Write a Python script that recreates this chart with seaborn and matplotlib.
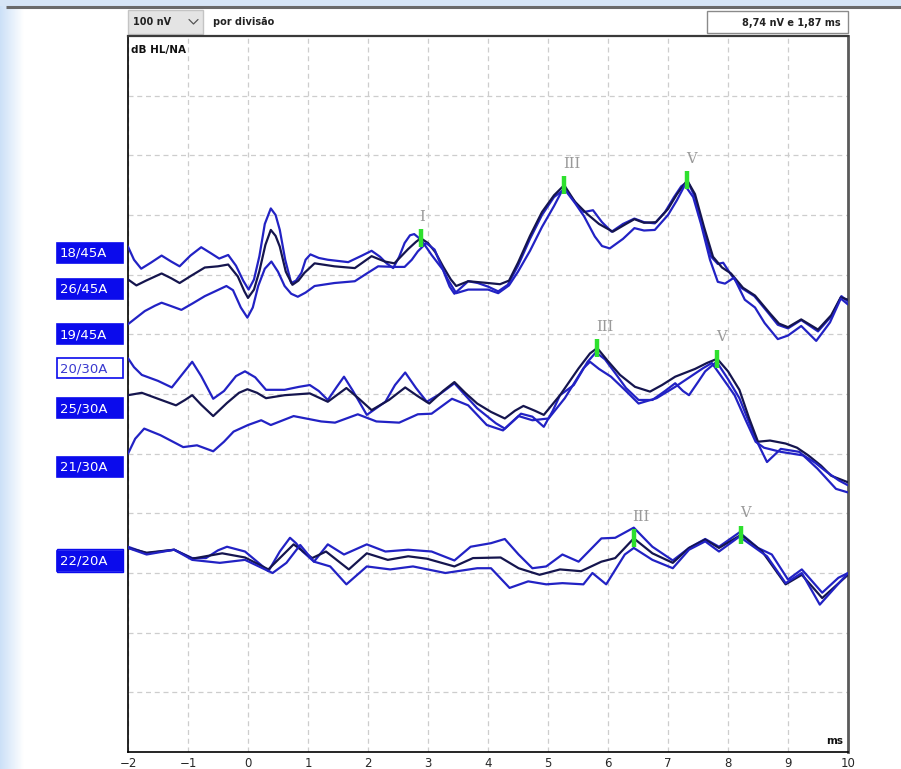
import numpy as np
import pandas as pd
import matplotlib
matplotlib.use("Agg")
import matplotlib.pyplot as plt
from matplotlib.patches import Rectangle
import seaborn as sns

# ---- ABR recordings: latency (ms) and amplitude (divisions of 100 nV, stacked) ----
t_18_45 = [-2.00, -1.90, -1.78, -1.62, -1.44, -1.28, -1.14, -0.96, -0.78, -0.62, -0.48, -0.33, -0.20, -0.08,
           0.01, 0.10, 0.19, 0.28, 0.38, 0.46, 0.53, 0.62, 0.72, 0.80, 0.89, 0.96, 1.04, 1.18, 1.33, 1.67,
           1.90, 2.06, 2.20, 2.31, 2.42, 2.52, 2.61, 2.70, 2.77, 2.89, 3.06, 3.25, 3.36, 3.44, 3.55, 3.67,
           3.83, 4.00, 4.17, 4.33, 4.50, 4.70, 4.90, 5.10, 5.28, 5.45, 5.60, 5.75, 5.90, 6.06, 6.25, 6.44,
           6.60, 6.78, 6.95, 7.10, 7.22, 7.33, 7.45, 7.56, 7.72, 7.83, 7.92, 8.05, 8.22, 8.44, 8.67, 8.83,
           9.00, 9.22, 9.50, 9.72, 9.89, 10.00]
v_18_45 = [8.47, 8.25, 8.10, 8.20, 8.32, 8.22, 8.14, 8.32, 8.46, 8.36, 8.27, 8.33, 8.15, 7.90,
           7.75, 7.92, 8.31, 8.85, 9.11, 9.00, 8.75, 8.25, 7.86, 7.90, 8.03, 8.25, 8.34, 8.28, 8.25, 8.21,
           8.32, 8.40, 8.30, 8.19, 8.11, 8.30, 8.53, 8.66, 8.68, 8.58, 8.33, 8.08, 7.80, 7.68, 7.78, 7.89,
           7.86, 7.80, 7.72, 7.83, 8.15, 8.60, 9.00, 9.30, 9.44, 9.22, 9.05, 9.08, 8.88, 8.72, 8.85, 8.94,
           8.88, 8.86, 9.05, 9.30, 9.48, 9.56, 9.30, 8.85, 8.30, 8.18, 8.20, 8.00, 7.78, 7.64, 7.36, 7.16,
           7.10, 7.24, 7.05, 7.30, 7.64, 7.55]

t_26_45 = [-2.00, -1.86, -1.70, -1.44, -1.28, -1.14, -0.95, -0.72, -0.50, -0.33, -0.17, -0.06, 0.00, 0.10,
           0.19, 0.29, 0.38, 0.46, 0.53, 0.63, 0.74, 0.84, 0.94, 1.11, 1.44, 1.78, 2.06, 2.28, 2.44, 2.67,
           2.80, 2.88, 3.00, 3.12, 3.25, 3.38, 3.47, 3.67, 4.00, 4.20, 4.35, 4.50, 4.70, 4.90, 5.10, 5.27,
           5.45, 5.65, 5.85, 6.08, 6.30, 6.44, 6.60, 6.80, 7.00, 7.15, 7.32, 7.45, 7.60, 7.75, 7.90, 8.05,
           8.25, 8.45, 8.70, 8.85, 9.00, 9.22, 9.50, 9.72, 9.88, 10.00]
v_26_45 = [7.92, 7.82, 7.90, 8.02, 7.94, 7.86, 7.98, 8.12, 8.14, 8.17, 7.97, 7.72, 7.61, 7.75,
           8.06, 8.50, 8.75, 8.65, 8.47, 8.05, 7.83, 7.90, 8.03, 8.19, 8.14, 8.11, 8.31, 8.22, 8.19, 8.43,
           8.55, 8.61, 8.53, 8.38, 8.14, 7.92, 7.81, 7.89, 7.86, 7.84, 7.90, 8.20, 8.65, 9.05, 9.33, 9.50,
           9.22, 9.02, 8.85, 8.72, 8.85, 8.93, 8.87, 8.88, 9.10, 9.35, 9.58, 9.35, 8.80, 8.30, 8.12, 8.02,
           7.78, 7.65, 7.35, 7.18, 7.12, 7.25, 7.08, 7.32, 7.62, 7.58]

t_19_45 = [-2.00, -1.86, -1.72, -1.55, -1.44, -1.30, -1.11, -0.92, -0.72, -0.55, -0.36, -0.25, -0.12, -0.01,
           0.08, 0.17, 0.28, 0.39, 0.50, 0.61, 0.72, 0.83, 0.96, 1.11, 1.44, 1.78, 1.98, 2.17, 2.44, 2.61,
           2.73, 2.83, 2.97, 3.11, 3.22, 3.33, 3.47, 3.67, 4.00, 4.17, 4.35, 4.50, 4.70, 4.90, 5.10, 5.22,
           5.30, 5.45, 5.60, 5.78, 5.90, 6.03, 6.25, 6.44, 6.60, 6.78, 7.00, 7.15, 7.28, 7.42, 7.55, 7.70,
           7.83, 7.95, 8.10, 8.28, 8.45, 8.61, 8.83, 9.00, 9.22, 9.47, 9.70, 9.88, 10.00]
v_19_45 = [7.17, 7.28, 7.39, 7.48, 7.53, 7.48, 7.41, 7.52, 7.64, 7.72, 7.81, 7.74, 7.45, 7.28,
           7.45, 7.81, 8.10, 8.22, 8.05, 7.81, 7.68, 7.63, 7.70, 7.81, 7.86, 7.89, 8.02, 8.14, 8.13, 8.13,
           8.25, 8.39, 8.53, 8.42, 8.15, 7.92, 7.69, 7.75, 7.75, 7.69, 7.82, 8.05, 8.40, 8.80, 9.15, 9.38,
           9.40, 9.20, 8.98, 8.64, 8.48, 8.44, 8.60, 8.78, 8.74, 8.75, 9.00, 9.25, 9.50, 9.30, 8.85, 8.25,
           7.88, 7.85, 7.95, 7.58, 7.45, 7.19, 6.92, 6.98, 7.14, 6.89, 7.20, 7.60, 7.50]

t_20_30 = [-2.00, -1.90, -1.77, -1.50, -1.27, -1.12, -0.93, -0.78, -0.58, -0.40, -0.20, -0.05, 0.12, 0.30,
           0.61, 0.85, 1.03, 1.18, 1.33, 1.48, 1.60, 1.75, 1.98, 2.29, 2.45, 2.62, 2.80, 2.98, 3.20, 3.44,
           3.62, 3.82, 4.13, 4.28, 4.55, 4.74, 4.93, 5.08, 5.20, 5.43, 5.66, 5.80, 5.95, 6.12, 6.30, 6.51,
           6.74, 6.95, 7.12, 7.25, 7.35, 7.50, 7.62, 7.81, 8.00, 8.19, 8.46, 8.65, 8.88, 9.19, 9.49, 9.80,
           10.00]
v_20_30 = [6.60, 6.45, 6.32, 6.22, 6.11, 6.30, 6.54, 6.30, 5.92, 6.05, 6.30, 6.38, 6.28, 6.07,
           6.07, 6.12, 6.15, 6.05, 5.90, 6.12, 6.29, 6.05, 5.65, 5.87, 6.15, 6.36, 6.10, 5.87, 6.00, 6.18,
           5.98, 5.76, 5.51, 5.42, 5.67, 5.62, 5.45, 5.72, 5.98, 6.15, 6.54, 6.70, 6.58, 6.35, 6.10, 5.90,
           5.90, 6.05, 6.18, 6.05, 5.98, 6.20, 6.38, 6.54, 6.25, 5.93, 5.25, 4.86, 5.08, 5.03, 4.75, 4.41,
           4.35]

t_25_30 = [-2.00, -1.77, -1.50, -1.20, -1.05, -0.93, -0.78, -0.58, -0.35, -0.15, -0.01, 0.15, 0.30, 0.61,
           1.03, 1.33, 1.64, 1.85, 2.06, 2.35, 2.62, 2.82, 3.02, 3.25, 3.44, 3.62, 3.82, 4.05, 4.28, 4.45,
           4.59, 4.78, 4.93, 5.20, 5.51, 5.70, 5.82, 6.00, 6.20, 6.45, 6.70, 6.90, 7.12, 7.45, 7.65, 7.82,
           8.00, 8.19, 8.35, 8.50, 8.70, 8.96, 9.15, 9.34, 9.55, 9.72, 10.00]
v_25_30 = [5.98, 6.02, 5.92, 5.81, 5.90, 5.98, 5.82, 5.63, 5.85, 6.02, 6.08, 6.02, 5.93, 5.98,
           6.01, 5.87, 6.10, 5.92, 5.73, 5.90, 6.11, 5.97, 5.84, 6.05, 6.20, 6.02, 5.84, 5.70, 5.59, 5.72,
           5.80, 5.72, 5.65, 5.98, 6.43, 6.68, 6.77, 6.55, 6.32, 6.12, 6.04, 6.15, 6.29, 6.42, 6.52, 6.59,
           6.38, 6.07, 5.60, 5.20, 5.22, 5.17, 5.10, 4.97, 4.80, 4.63, 4.52]

t_21_30 = [-2.00, -1.88, -1.73, -1.46, -1.08, -0.85, -0.58, -0.40, -0.24, 0.00, 0.22, 0.38, 0.76, 1.22,
           1.45, 1.83, 2.14, 2.52, 2.83, 3.06, 3.40, 3.67, 3.98, 4.25, 4.51, 4.74, 5.01, 5.28, 5.59, 5.70,
           5.85, 6.05, 6.30, 6.51, 6.81, 7.12, 7.58, 7.73, 7.90, 8.11, 8.30, 8.46, 8.60, 8.88, 9.26, 9.45,
           9.65, 9.85, 10.00]
v_21_30 = [5.00, 5.25, 5.42, 5.31, 5.11, 5.14, 5.04, 5.20, 5.37, 5.48, 5.56, 5.48, 5.63, 5.54,
           5.52, 5.66, 5.54, 5.52, 5.66, 5.67, 5.92, 5.81, 5.48, 5.39, 5.63, 5.56, 5.59, 5.93, 6.43, 6.54,
           6.42, 6.29, 6.05, 5.84, 5.93, 6.12, 6.43, 6.52, 6.28, 5.98, 5.55, 5.20, 5.10, 5.03, 4.97, 4.85,
           4.69, 4.55, 4.47]

t_22_20a = [-2.00, -1.69, -1.23, -0.93, -0.70, -0.50, -0.35, -0.05, 0.20, 0.34, 0.53, 0.70, 0.80, 0.91,
            1.10, 1.33, 1.60, 1.98, 2.29, 2.67, 3.06, 3.44, 3.71, 4.05, 4.28, 4.51, 4.74, 4.97, 5.24, 5.51,
            5.89, 6.12, 6.43, 6.74, 7.08, 7.35, 7.62, 7.85, 8.19, 8.50, 8.73, 9.00, 9.23, 9.57, 9.84, 10.00]
v_22_20a = [3.44, 3.33, 3.39, 3.25, 3.25, 3.38, 3.44, 3.36, 3.15, 3.03, 3.36, 3.59, 3.50, 3.36,
            3.19, 3.48, 3.31, 3.48, 3.36, 3.39, 3.36, 3.21, 3.44, 3.50, 3.57, 3.31, 3.08, 3.11, 3.31, 3.19,
            3.58, 3.59, 3.76, 3.44, 3.21, 3.42, 3.57, 3.44, 3.68, 3.42, 3.31, 2.89, 3.06, 2.67, 2.92, 3.00]

t_22_20b = [-2.00, -1.69, -1.23, -0.93, -0.43, -0.05, 0.34, 0.61, 0.76, 1.07, 1.30, 1.68, 1.98, 2.33,
            2.67, 2.98, 3.44, 3.75, 4.21, 4.51, 4.86, 5.20, 5.55, 5.89, 6.12, 6.43, 6.74, 7.08, 7.35, 7.62,
            7.85, 8.22, 8.57, 8.96, 9.23, 9.57, 10.00]
v_22_20b = [3.42, 3.34, 3.39, 3.24, 3.33, 3.26, 3.06, 3.33, 3.48, 3.25, 3.36, 3.06, 3.33, 3.22,
            3.28, 3.24, 3.11, 3.25, 3.26, 3.08, 2.97, 3.06, 3.03, 3.19, 3.25, 3.58, 3.33, 3.17, 3.42, 3.56,
            3.42, 3.64, 3.36, 2.81, 2.97, 2.58, 2.97]

t_22_20c = [-2.00, -1.69, -1.23, -0.93, -0.47, -0.05, 0.41, 0.64, 0.87, 1.10, 1.37, 1.64, 1.98, 2.37,
            2.75, 3.29, 3.82, 4.05, 4.36, 4.67, 4.97, 5.24, 5.59, 5.74, 5.97, 6.28, 6.43, 6.74, 7.08, 7.35,
            7.62, 7.85, 8.19, 8.65, 8.96, 9.23, 9.53, 10.00]
v_22_20c = [3.42, 3.31, 3.39, 3.22, 3.17, 3.22, 3.00, 3.17, 3.47, 3.19, 3.11, 2.81, 3.11, 3.06,
            3.11, 3.00, 3.08, 3.08, 2.75, 2.86, 2.81, 2.83, 2.81, 3.00, 2.81, 3.31, 3.42, 3.22, 3.08, 3.39,
            3.53, 3.36, 3.61, 3.28, 2.83, 3.00, 2.47, 3.00]

trace_names = ["18/45A", "26/45A", "19/45A", "20/30A", "25/30A", "21/30A", "22/20A", "22/20A·m", "22/20A·b"]
trace_times = [t_18_45, t_26_45, t_19_45, t_20_30, t_25_30, t_21_30, t_22_20a, t_22_20b, t_22_20c]
trace_vals = [v_18_45, v_26_45, v_19_45, v_20_30, v_25_30, v_21_30, v_22_20a, v_22_20b, v_22_20c]

# Wave markers (I, III, V) on the averaged trace of each level
peak_labels = ["I", "III", "V", "III", "V", "III", "V"]
peak_times = [2.88, 5.27, 7.32, 5.82, 7.82, 6.43, 8.22]
peak_vals = [8.61, 9.50, 9.58, 6.77, 6.59, 3.58, 3.64]

# Channel tags on the left
tag_texts = ["18/45A", "26/45A", "19/45A", "20/30A", "25/30A", "21/30A", "22/20A"]

xtick_vals = list(range(-2, 11))

# ---------------------------------------------------------------
BLUE = "#2222c4"
NAVY = "#15154e"
TAG_BLUE = "#0b0bec"
trace_colors = [BLUE, NAVY, BLUE, BLUE, NAVY, BLUE, BLUE, NAVY, BLUE]

rows = []
for name, ts, vs in zip(trace_names, trace_times, trace_vals):
    for t, v in zip(ts, vs):
        rows.append({"ms": t, "amp": v, "trace": name})
df = pd.DataFrame(rows)

sns.set_style("white")
plt.rcParams["font.family"] = ["DejaVu Sans"]

W, H = 901, 769
fig = plt.figure(figsize=(W / 100, H / 100), dpi=100)
fig.patch.set_facecolor("white")

# Page background layer in pixel coordinates
bg = fig.add_axes([0, 0, 1, 1], zorder=0)
bg.set_xlim(0, W)
bg.set_ylim(H, 0)
bg.axis("off")
grad = np.linspace(0, 1, 64)[None, :]
bg.imshow(np.dstack([0.80 + 0.2 * grad, 0.88 + 0.12 * grad, 0.97 + 0.03 * grad]),
          extent=[0, 24, H, 0], aspect="auto", interpolation="bilinear")
bg.add_patch(Rectangle((0, 0), W, 6, facecolor="#d6e5f6", edgecolor="none"))
bg.plot([6, W], [7, 7], color="#6a6a6a", lw=2.2, solid_capstyle="butt")
bg.set_xlim(0, W)
bg.set_ylim(H, 0)

# header controls
bg.add_patch(Rectangle((128, 10), 75, 24, facecolor="#e4e4e4", edgecolor="#c4c4c4", lw=1))
bg.text(133, 22, "100 nV", fontsize=7, fontweight="bold", color="#222", va="center", ha="left")
bg.plot([189, 193.5, 198], [19.5, 24, 19.5], color="#555", lw=0.9)
bg.text(213, 22, "por divisão", fontsize=7, fontweight="bold", color="#222", va="center", ha="left")
bg.add_patch(Rectangle((707, 11), 141, 22, facecolor="white", edgecolor="#8a8a8a", lw=1))
bg.text(841, 22.5, "8,74 nV e 1,87 ms", fontsize=7, fontweight="bold", color="#222", va="center", ha="right")

# ---------------------------------------------------------------
ax = fig.add_axes([128 / W, 17 / H, 720 / W, 716 / H], zorder=1)
ax.set_facecolor("white")
sns.lineplot(data=df, x="ms", y="amp", hue="trace", hue_order=trace_names,
             palette=trace_colors, estimator=None, sort=True, legend=False,
             linewidth=1.6, ax=ax, zorder=3)
for ln in ax.get_lines():
    ln.set_solid_joinstyle("round")

ax.set_xlim(-2, 10)
ax.set_ylim(0, 12)
ax.set_xticks(xtick_vals)
ax.set_xticklabels([str(x).replace("-", "\u2212") for x in xtick_vals], fontsize=8.5)
ax.set_yticks(range(1, 12))
ax.set_yticklabels([])
ax.set_xlabel("")
ax.set_ylabel("")
ax.tick_params(axis="both", direction="inout", length=7, width=1.1, color="black", pad=0)
ax.grid(True, linestyle=(0, (4, 3)), color="#cdcdcd", linewidth=0.9, zorder=0)
ax.set_axisbelow(True)

for side in ("left", "bottom"):
    ax.spines[side].set_color("black")
    ax.spines[side].set_linewidth(1.2)
ax.spines["right"].set_color("#5a5a5a")
ax.spines["right"].set_linewidth(2.0)
ax.spines["top"].set_color("#3a3a3a")
ax.spines["top"].set_linewidth(1.6)

ax.text(0.004, 0.987, "dB HL/NA", transform=ax.transAxes, fontsize=7.5, fontweight="bold",
        va="top", ha="left", color="#111")
ax.text(0.993, 0.008, "ms", transform=ax.transAxes, fontsize=7.5, fontweight="bold",
        va="bottom", ha="right", color="#111")

# wave markers and their names
for lab, t, v in zip(peak_labels, peak_times, peak_vals):
    ax.plot([t, t], [v - 0.15, v + 0.15], color="#2ee02e", lw=3.2, solid_capstyle="butt", zorder=5)
    ax.text(t - 0.02, v + 0.36, lab, fontsize=10.5, color="#9a9a9a", family="DejaVu Serif",
            ha="left", va="center", zorder=6)

# channel tags (pixel positions of tag centres)
tag_centres = [253, 289, 334, 368, 408, 467, 561]
for txt, yc in zip(tag_texts, tag_centres):
    hollow = txt == "20/30A"
    if txt == "22/20A":
        bg.add_patch(Rectangle((57, yc - 12), 66, 23, facecolor="white", edgecolor=TAG_BLUE, lw=1))
    bg.add_patch(Rectangle((57, yc - 10), 66, 20,
                           facecolor="white" if hollow else TAG_BLUE,
                           edgecolor=TAG_BLUE, lw=1.2))
    bg.text(60, yc + 0.5, txt, fontsize=9.5, color="#3a3ad0" if hollow else "white",
            va="center", ha="left")

fig.savefig("out.png", dpi=100)
